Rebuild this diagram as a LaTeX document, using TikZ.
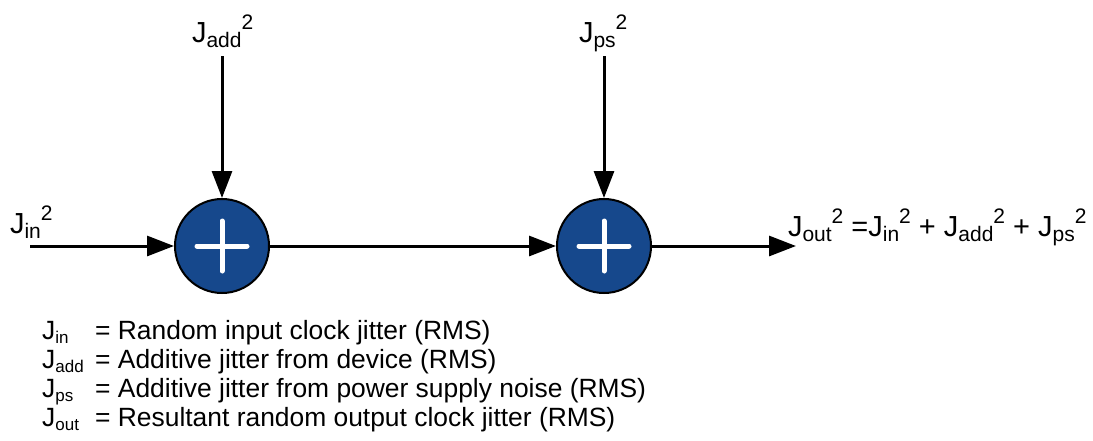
\documentclass[tikz,border=0pt]{standalone}
\usepackage{fontspec}
\setmainfont{Liberation Sans}
\usetikzlibrary{arrows.meta}
\definecolor{sumblue}{RGB}{22,72,140}
\newcommand\Jsub[2]{J\raisebox{-0.18em}{\fontsize{#2}{#2}\selectfont #1}}
\newcommand\Sq[1]{\raisebox{0.42em}{\fontsize{#1}{#1}\selectfont 2}}
\newcommand\Lab[1]{\fontsize{29}{29}\selectfont\Jsub{#1}{21}\Sq{21}}
\newcommand\Leg[2]{\makebox[53pt][l]{\Jsub{#1}{17}}= #2}
\begin{document}
\begin{tikzpicture}[x=1pt,y=-1pt,
  arr/.style={line width=3pt,-{Triangle[length=27pt,width=20pt]}},
  sum/.style={circle,draw=black,line width=2pt,fill=sumblue,minimum size=94pt,inner sep=0pt,
    path picture={\draw[white,line width=5pt,line cap=round]
      ([xshift=-25pt]path picture bounding box.center) -- ([xshift=25pt]path picture bounding box.center)
      ([yshift=-25pt]path picture bounding box.center) -- ([yshift=25pt]path picture bounding box.center);}},
  lab/.style={anchor=base west,inner sep=0pt,outer sep=0pt},
  leg/.style={anchor=base west,inner sep=0pt,font=\fontsize{26.4}{26.4}\selectfont}]
\useasboundingbox (0,0) rectangle (1093,440);
\node[sum] (s1) at (222,246) {};
\node[sum] (s2) at (604,246) {};
\node[lab] (jin) at (10,233) {\Lab{in}};
\node[lab] (jadd) at (192,42) {\Lab{add}};
\node[lab] (jps) at (579,42) {\Lab{ps}};
\node[lab] (eq) at (788,236) {\Lab{out} =\Lab{in} + \Lab{add} + \Lab{ps}};
\coordinate (i0) at (30,246);
\coordinate (a0) at (222,56);
\coordinate (p0) at (604,56);
\coordinate (o1) at (796,246);
\draw[arr] (i0) -- (s1.west);
\draw[arr] (a0) -- (s1.north);
\draw[arr] (s1.east) -- (s2.west);
\draw[arr] (p0) -- (s2.north);
\draw[arr] (s2.east) -- (o1);
\node[leg] (l1) at (42,339) {\Leg{in}{Random input clock jitter (RMS)}};
\node[leg] (l2) at (42,368) {\Leg{add}{Additive jitter from device (RMS)}};
\node[leg] (l3) at (42,397) {\Leg{ps}{Additive jitter from power supply noise (RMS)}};
\node[leg] (l4) at (42,426) {\Leg{out}{Resultant random output clock jitter (RMS)}};
\end{tikzpicture}
\end{document}
